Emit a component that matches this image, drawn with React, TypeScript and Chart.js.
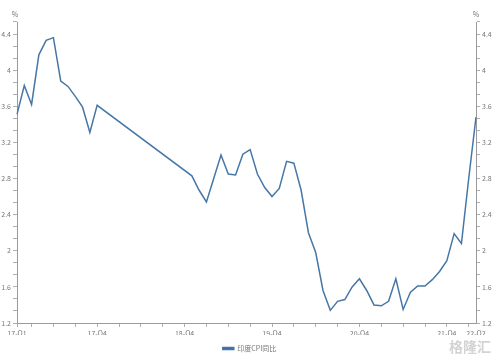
import React, { useEffect, useRef } from "react";
import { Chart, registerables } from "chart.js";

Chart.register(...registerables);

const categories = [
  "2017-01","2017-02","2017-03","2017-04","2017-05","2017-06","2017-07","2017-08","2017-09","2017-10","2017-11","2017-12",
  "2018-01","2018-02","2018-03","2018-04","2018-05","2018-06","2018-07","2018-08","2018-09","2018-10","2018-11","2018-12",
  "2019-01","2019-02","2019-03","2019-04","2019-05","2019-06","2019-07","2019-08","2019-09","2019-10","2019-11","2019-12",
  "2020-01","2020-02","2020-03","2020-04","2020-05","2020-06","2020-07","2020-08","2020-09","2020-10","2020-11","2020-12",
  "2021-01","2021-02","2021-03","2021-04","2021-05","2021-06","2021-07","2021-08","2021-09","2021-10","2021-11","2021-12",
  "2022-01","2022-02","2022-03","2022-04",
];

const cpiYoY: (number | null)[] = [
  3.51, 3.83, 3.62, 4.17, 4.33, 4.36, 3.88, 3.82, 3.71, 3.59, 3.31, 3.61,
  null, null, null, null, null, null, null, null, null, null, null, null,
  2.83, 2.67, 2.54, 2.8, 3.06, 2.85, 2.84, 3.07, 3.12, 2.85, 2.7, 2.6,
  2.69, 2.99, 2.97, 2.67, 2.2, 1.98, 1.56, 1.34, 1.44, 1.46, 1.6, 1.69,
  1.56, 1.4, 1.39, 1.44, 1.69, 1.35, 1.54, 1.61, 1.61, 1.68, 1.77, 1.89,
  2.19, 2.08, 2.8, 3.48,
];

const xTickLabels: Record<string, string> = {
  "2017-01": "17-Q1",
  "2017-12": "17-Q4",
  "2018-12": "18-Q4",
  "2019-12": "19-Q4",
  "2020-12": "20-Q4",
  "2021-12": "21-Q4",
  "2022-04": "22-Q2",
};

const yMajorTicks = [1.2, 1.6, 2, 2.4, 2.8, 3.2, 3.6, 4, 4.4];
const yMinorPerMajor = 3;
const yUnit = "%";
const seriesName = "印度CPI同比";
const watermark = "格隆汇";

const FONT = '"Noto Sans CJK SC", "Open Sans", sans-serif';
const majorStep = yMajorTicks[1] - yMajorTicks[0];
const yMin = yMajorTicks[0];
const yMax = yMajorTicks[yMajorTicks.length - 1] + majorStep / yMinorPerMajor;

function buildYTicks(scale: any) {
  const step = majorStep / yMinorPerMajor;
  const ticks: any[] = [];
  for (let i = 0; ; i++) {
    const v = yMin + i * step;
    if (v > yMax + 1e-9) break;
    ticks.push({ value: v });
  }
  scale.ticks = ticks;
}

function yLabel(value: any, index: number) {
  return index % yMinorPerMajor === 0 ? String(+Number(value).toFixed(1)) : "";
}

const extras = {
  id: "extras",
  afterDraw(chart: any) {
    const ctx = chart.ctx;
    const { left, right } = chart.chartArea;
    ctx.save();
    ctx.font = `7px ${FONT}`;
    ctx.fillStyle = "#777";
    ctx.textAlign = "center";
    ctx.textBaseline = "middle";
    ctx.fillText(yUnit, left - 2, 14);
    ctx.fillText(yUnit, right, 14);
    ctx.font = `bold 14px ${FONT}`;
    ctx.fillStyle = "rgba(200,200,200,0.8)";
    ctx.fillText(watermark, 470, 347);
    ctx.restore();
  },
};

export default function App() {
  const ref = useRef<HTMLCanvasElement | null>(null);

  useEffect(() => {
    if (!ref.current) return;
    const yScaleCommon = (width: number) => ({
      type: "linear" as const,
      min: yMin,
      max: yMax,
      afterBuildTicks: buildYTicks,
      afterFit: (s: any) => {
        s.width = width;
        s.paddingTop = 0;
        s.paddingBottom = 0;
      },
      grid: { drawOnChartArea: false, drawTicks: true, tickLength: 4, color: "#b0b0b0" },
      border: { display: true, color: "#9a9a9a", width: 1 },
      ticks: {
        autoSkip: false,
        padding: 2,
        color: "#777",
        font: { size: 7, family: FONT },
        callback: yLabel,
      },
    });

    const chart = new Chart(ref.current, {
      type: "line",
      data: {
        labels: categories,
        datasets: [
          {
            label: seriesName,
            data: cpiYoY,
            borderColor: "#4677a6",
            backgroundColor: "#3b5fae",
            borderWidth: 1.5,
            pointRadius: 0,
            tension: 0,
            spanGaps: true,
            yAxisID: "y",
          },
        ],
      },
      options: {
        animation: false,
        responsive: false,
        layout: { padding: { top: 22, left: 0, right: 0, bottom: 1 } },
        plugins: {
          legend: {
            position: "bottom",
            labels: {
              boxWidth: 11,
              boxHeight: 2,
              padding: 10,
              color: "#777",
              font: { size: 7, family: FONT },
            },
          },
          tooltip: { enabled: false },
        },
        scales: {
          x: {
            type: "category",
            afterFit: (s: any) => {
              s.height = 12;
              s.paddingLeft = 0;
              s.paddingRight = 0;
            },
            grid: {
              drawOnChartArea: false,
              drawTicks: true,
              tickLength: 4,
              color: (c: any) => (c.index % 3 === 2 || c.index === 0 ? "#b0b0b0" : "rgba(0,0,0,0)"),
            },
            border: { display: true, color: "#9a9a9a", width: 1 },
            ticks: {
              autoSkip: false,
              maxRotation: 0,
              minRotation: 0,
              padding: 2,
              color: "#777",
              font: { size: 7, family: FONT },
              callback: (_v: any, i: number) => xTickLabels[categories[i]] || "",
            },
          },
          y: { ...yScaleCommon(17), position: "left" },
          y1: { ...yScaleCommon(23), position: "right" },
        },
      },
      plugins: [extras],
    });
    return () => chart.destroy();
  }, []);

  return (
    <div style={{ position: "absolute", left: 0, top: 0, width: 499, height: 363, background: "#fff" }}>
      <canvas ref={ref} width={499} height={363} style={{ display: "block" }} />
    </div>
  );
}
